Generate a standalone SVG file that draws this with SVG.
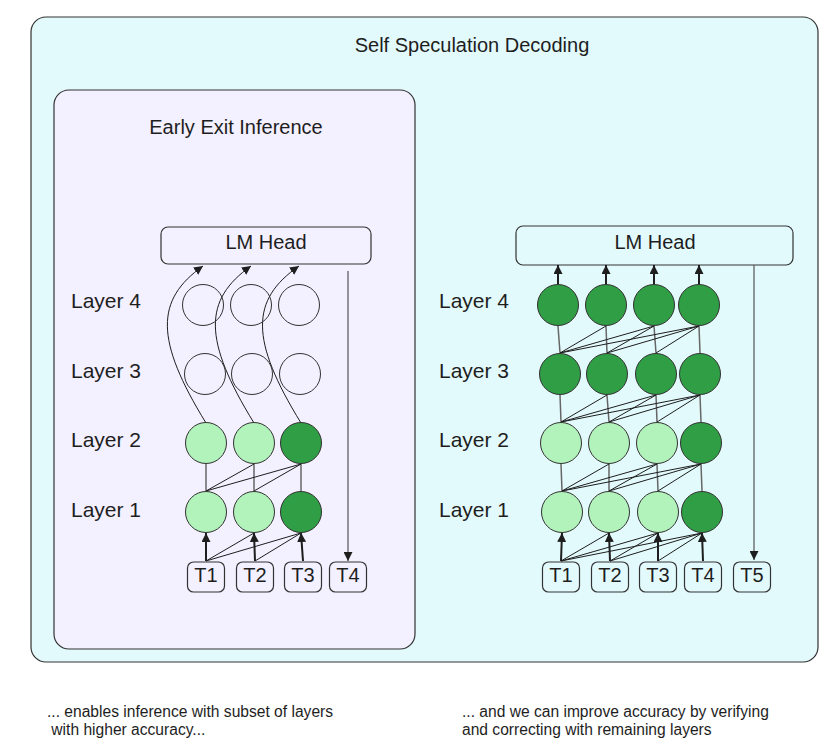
<svg xmlns="http://www.w3.org/2000/svg" width="834" height="756" viewBox="0 0 834 756">
<defs>
<marker id="ah" viewBox="0 0 10 10" refX="10" refY="5" markerWidth="9" markerHeight="9" markerUnits="userSpaceOnUse" orient="auto"><path d="M0,0 L10,5 L0,10 z" fill="#1e1e1e"/></marker>
<style>
text{font-family:"Liberation Sans",Arial,sans-serif;fill:#1e1e1e}
.t20{font-size:20px}
.lay{font-size:21px}
.tok{font-size:20px;text-anchor:middle}
.cap{font-size:15.6px}
.box{stroke:#333;stroke-width:1.2}
.node{stroke:#333;stroke-width:1}
.lt{fill:#b2f2bb}
.dk{fill:#2f9e44}
.em{fill:none}
.tb{fill:none;stroke:#333;stroke-width:1.2}
.thin{stroke:#1e1e1e;stroke-width:1;fill:none}
.vert{stroke:#666;stroke-width:1.5;fill:none}
.up{stroke:#1e1e1e;stroke-width:2;fill:none}
.arr{stroke:#555;stroke-width:1.2;fill:none}
</style>
</defs>
<g id="outer"><rect class="box" x="31" y="17" width="787" height="645" rx="15" fill="#e3fafc"/><text class="t20" x="472" y="52" text-anchor="middle">Self Speculation Decoding</text></g>
<g id="inner"><rect class="box" x="54" y="90" width="361" height="559" rx="15" fill="#f3f0ff"/><text class="t20" x="236" y="134" text-anchor="middle">Early Exit Inference</text></g>
<g id="labels-left">
<text class="lay" x="71" y="308">Layer 4</text><text class="lay" x="71" y="378">Layer 3</text><text class="lay" x="71" y="447">Layer 2</text><text class="lay" x="71" y="517">Layer 1</text>
</g>
<g id="labels-right">
<text class="lay" x="439" y="308">Layer 4</text><text class="lay" x="439" y="378">Layer 3</text><text class="lay" x="439" y="447">Layer 2</text><text class="lay" x="439" y="517">Layer 1</text>
</g>
<g id="lmhead-left"><rect class="tb" x="161" y="227" width="210" height="37" rx="7" fill="none"/><text class="t20" x="266" y="249" text-anchor="middle">LM Head</text></g>
<g id="lmhead-right"><rect class="tb" x="516" y="226" width="277" height="39" rx="7"/><text class="t20" x="655" y="249" text-anchor="middle">LM Head</text></g>
<g id="connectors">
<line class="up" x1="206" y1="561" x2="206" y2="533" marker-end="url(#ah)"/>
<line class="up" x1="255" y1="561" x2="254" y2="533" marker-end="url(#ah)"/>
<line class="up" x1="303" y1="561" x2="301" y2="533" marker-end="url(#ah)"/>
<line class="thin" x1="206" y1="561" x2="254" y2="533"/>
<line class="thin" x1="206" y1="561" x2="301" y2="533"/>
<line class="thin" x1="255" y1="561" x2="301" y2="533"/>
<line class="vert" x1="206" y1="491" x2="206" y2="464"/>
<line class="vert" x1="254" y1="491" x2="254" y2="464"/>
<line class="vert" x1="301" y1="491" x2="301" y2="464"/>
<line class="thin" x1="206" y1="491" x2="254" y2="464"/>
<line class="thin" x1="206" y1="491" x2="301" y2="464"/>
<line class="thin" x1="254" y1="491" x2="301" y2="464"/>
<path class="thin" d="M206,423 C155,340 155,300 203,266" marker-end="url(#ah)"/>
<path class="thin" d="M254,423 C203,340 203,300 251,266" marker-end="url(#ah)"/>
<path class="thin" d="M301,423 C250,340 250,300 299,266" marker-end="url(#ah)"/>
<line class="arr" x1="348" y1="271" x2="348" y2="561" marker-end="url(#ah)"/>
<line class="up" x1="561" y1="561" x2="562" y2="533" marker-end="url(#ah)"/>
<line class="up" x1="610" y1="561" x2="609" y2="533" marker-end="url(#ah)"/>
<line class="up" x1="658" y1="561" x2="658" y2="533" marker-end="url(#ah)"/>
<line class="up" x1="703" y1="561" x2="702" y2="533" marker-end="url(#ah)"/>
<line class="thin" x1="561" y1="561" x2="609" y2="533"/>
<line class="thin" x1="561" y1="561" x2="658" y2="533"/>
<line class="thin" x1="561" y1="561" x2="702" y2="533"/>
<line class="thin" x1="610" y1="561" x2="658" y2="533"/>
<line class="thin" x1="610" y1="561" x2="702" y2="533"/>
<line class="thin" x1="658" y1="561" x2="702" y2="533"/>
<line class="vert" x1="562" y1="491" x2="561" y2="464"/>
<line class="vert" x1="609" y1="491" x2="609" y2="464"/>
<line class="vert" x1="658" y1="491" x2="657" y2="464"/>
<line class="vert" x1="702" y1="491" x2="701" y2="464"/>
<line class="thin" x1="562" y1="491" x2="609" y2="464"/>
<line class="thin" x1="562" y1="491" x2="657" y2="464"/>
<line class="thin" x1="562" y1="491" x2="701" y2="464"/>
<line class="thin" x1="609" y1="491" x2="657" y2="464"/>
<line class="thin" x1="609" y1="491" x2="701" y2="464"/>
<line class="thin" x1="658" y1="491" x2="701" y2="464"/>
<line class="vert" x1="561" y1="422" x2="560" y2="395"/>
<line class="vert" x1="609" y1="422" x2="607" y2="395"/>
<line class="vert" x1="657" y1="422" x2="656" y2="395"/>
<line class="vert" x1="701" y1="422" x2="700" y2="395"/>
<line class="thin" x1="561" y1="422" x2="607" y2="395"/>
<line class="thin" x1="561" y1="422" x2="656" y2="395"/>
<line class="thin" x1="561" y1="422" x2="700" y2="395"/>
<line class="thin" x1="609" y1="422" x2="656" y2="395"/>
<line class="thin" x1="609" y1="422" x2="700" y2="395"/>
<line class="thin" x1="657" y1="422" x2="700" y2="395"/>
<line class="vert" x1="560" y1="353" x2="558" y2="326"/>
<line class="vert" x1="607" y1="353" x2="606" y2="326"/>
<line class="vert" x1="656" y1="353" x2="654" y2="326"/>
<line class="vert" x1="700" y1="353" x2="699" y2="326"/>
<line class="thin" x1="560" y1="353" x2="606" y2="326"/>
<line class="thin" x1="560" y1="353" x2="654" y2="326"/>
<line class="thin" x1="560" y1="353" x2="699" y2="326"/>
<line class="thin" x1="607" y1="353" x2="654" y2="326"/>
<line class="thin" x1="607" y1="353" x2="699" y2="326"/>
<line class="thin" x1="656" y1="353" x2="699" y2="326"/>
<line class="up" x1="558" y1="284" x2="558" y2="265" marker-end="url(#ah)"/>
<line class="up" x1="606" y1="284" x2="606" y2="265" marker-end="url(#ah)"/>
<line class="up" x1="654" y1="284" x2="654" y2="265" marker-end="url(#ah)"/>
<line class="up" x1="699" y1="284" x2="699" y2="265" marker-end="url(#ah)"/>
<line class="arr" x1="754" y1="265" x2="754" y2="560" marker-end="url(#ah)"/>
</g>
<g id="nodes-left">
<circle class="node em" cx="203" cy="305" r="20.5"/><circle class="node em" cx="251" cy="305" r="20.5"/><circle class="node em" cx="299" cy="305" r="20.5"/>
<circle class="node em" cx="205" cy="374" r="20.5"/><circle class="node em" cx="252" cy="374" r="20.5"/><circle class="node em" cx="300" cy="374" r="20.5"/>
<circle class="node lt" cx="206" cy="443" r="20.5"/><circle class="node lt" cx="254" cy="443" r="20.5"/><circle class="node dk" cx="301" cy="443" r="20.5"/>
<circle class="node lt" cx="206" cy="512" r="20.5"/><circle class="node lt" cx="254" cy="512" r="20.5"/><circle class="node dk" cx="301" cy="512" r="20.5"/>
</g>
<g id="nodes-right">
<circle class="node dk" cx="558" cy="305" r="20.5"/><circle class="node dk" cx="606" cy="305" r="20.5"/><circle class="node dk" cx="654" cy="305" r="20.5"/><circle class="node dk" cx="699" cy="305" r="20.5"/>
<circle class="node dk" cx="560" cy="374" r="20.5"/><circle class="node dk" cx="607" cy="374" r="20.5"/><circle class="node dk" cx="656" cy="374" r="20.5"/><circle class="node dk" cx="700" cy="374" r="20.5"/>
<circle class="node lt" cx="561" cy="443" r="20.5"/><circle class="node lt" cx="609" cy="443" r="20.5"/><circle class="node lt" cx="657" cy="443" r="20.5"/><circle class="node dk" cx="701" cy="443" r="20.5"/>
<circle class="node lt" cx="562" cy="512" r="20.5"/><circle class="node lt" cx="609" cy="512" r="20.5"/><circle class="node lt" cx="658" cy="512" r="20.5"/><circle class="node dk" cx="702" cy="512" r="20.5"/>
</g>
<g id="tokens-left">
<g id="tl1"><rect class="tb" x="187.5" y="562" width="37" height="30" rx="6"/><text class="tok" x="206" y="582">T1</text></g>
<g id="tl2"><rect class="tb" x="236.5" y="562" width="37" height="30" rx="6"/><text class="tok" x="255" y="582">T2</text></g>
<g id="tl3"><rect class="tb" x="284.5" y="562" width="37" height="30" rx="6"/><text class="tok" x="303" y="582">T3</text></g>
<g id="tl4"><rect class="tb" x="329.5" y="562" width="37" height="30" rx="6"/><text class="tok" x="348" y="582">T4</text></g>
</g>
<g id="tokens-right">
<g id="tr1"><rect class="tb" x="542.5" y="562" width="37" height="30" rx="6"/><text class="tok" x="561" y="582">T1</text></g>
<g id="tr2"><rect class="tb" x="591.5" y="562" width="37" height="30" rx="6"/><text class="tok" x="610" y="582">T2</text></g>
<g id="tr3"><rect class="tb" x="639.5" y="562" width="37" height="30" rx="6"/><text class="tok" x="658" y="582">T3</text></g>
<g id="tr4"><rect class="tb" x="684.5" y="562" width="37" height="30" rx="6"/><text class="tok" x="703" y="582">T4</text></g>
<g id="tr5"><rect class="tb" x="733.5" y="562" width="37" height="30" rx="6"/><text class="tok" x="752" y="582">T5</text></g>
</g>
<g id="captions">
<text class="cap" x="47" y="717">... enables inference with subset of layers</text>
<text class="cap" x="47" y="735" xml:space="preserve"> with higher accuracy...</text>
<text class="cap" x="462" y="717">... and we can improve accuracy by verifying</text>
<text class="cap" x="462" y="735">and correcting with remaining layers</text>
</g>
</svg>
